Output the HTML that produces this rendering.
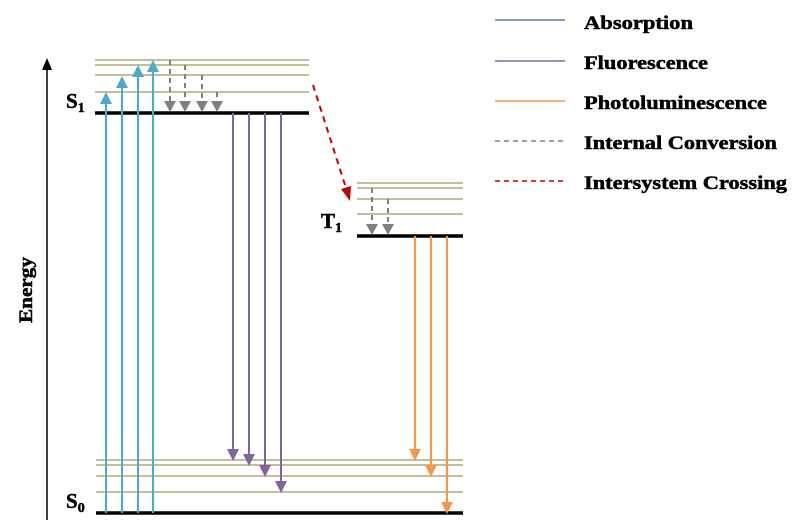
<!DOCTYPE html>
<html><head><style>
html,body{margin:0;padding:0;background:#fff;width:800px;height:526px;overflow:hidden}
text{font-family:"Liberation Serif",serif;font-weight:bold;fill:#000;stroke:#000;stroke-width:0.5}
</style></head><body>
<svg width="800" height="526" viewBox="0 0 800 526" xmlns="http://www.w3.org/2000/svg">
<!-- axis -->
<line x1="47" y1="520" x2="47" y2="68" stroke="#000" stroke-width="1.5"/>
<path d="M42,70 L47,58 L52,70 Z" fill="#000"/>
<text transform="translate(32,290) rotate(-90)" text-anchor="middle" font-size="19" textLength="66" lengthAdjust="spacingAndGlyphs">Energy</text>
<g stroke="#c4bd97" stroke-width="2">
<line x1="95" y1="60" x2="309" y2="60"/><line x1="95" y1="65" x2="309" y2="65"/>
<line x1="95" y1="75" x2="309" y2="75"/><line x1="95" y1="92" x2="309" y2="92"/>
<line x1="357" y1="183" x2="463" y2="183"/><line x1="357" y1="188" x2="463" y2="188"/>
<line x1="357" y1="199" x2="463" y2="199"/><line x1="357" y1="214" x2="463" y2="214"/>
<line x1="96" y1="460" x2="463" y2="460"/><line x1="96" y1="465" x2="463" y2="465"/>
<line x1="96" y1="476" x2="463" y2="476"/><line x1="96" y1="492" x2="463" y2="492"/>
</g>
<g stroke="#000" stroke-width="3.5">
<line x1="95" y1="113" x2="309" y2="113"/>
<line x1="357" y1="236" x2="463" y2="236"/>
<line x1="96" y1="513" x2="463" y2="513"/>
</g>
<text x="66" y="108" font-size="21">S<tspan font-size="14" dy="4">1</tspan></text>
<text x="321" y="228" font-size="21">T<tspan font-size="14" dy="4">1</tspan></text>
<text x="66" y="508" font-size="21">S<tspan font-size="14" dy="4">0</tspan></text>
<g stroke="#4bacc6" stroke-width="2">
<line x1="106" y1="513" x2="106" y2="100"/><line x1="122" y1="513" x2="122" y2="84"/>
<line x1="138" y1="513" x2="138" y2="73"/><line x1="153" y1="513" x2="153" y2="68"/>
</g>
<g fill="#4bacc6">
<path d="M100,104 L106,92 L112,104Z"/><path d="M116,88 L122,76 L128,88Z"/>
<path d="M132,77 L138,65 L144,77Z"/><path d="M147,72 L153,60 L159,72Z"/>
</g>
<g stroke="#808080" stroke-width="2" stroke-dasharray="5,4">
<line x1="170" y1="60" x2="170" y2="103"/><line x1="185" y1="65" x2="185" y2="103"/>
<line x1="202" y1="75" x2="202" y2="103"/><line x1="217" y1="92" x2="217" y2="103"/>
<line x1="372" y1="188" x2="372" y2="226"/><line x1="388" y1="199" x2="388" y2="226"/>
</g>
<g fill="#808080">
<path d="M164,101 L170,112 L176,101Z"/><path d="M179,101 L185,112 L191,101Z"/>
<path d="M196,101 L202,112 L208,101Z"/><path d="M211,101 L217,112 L223,101Z"/>
<path d="M366,224 L372,235 L378,224Z"/><path d="M382,224 L388,235 L394,224Z"/>
</g>
<g stroke="#8064a2" stroke-width="2">
<line x1="233" y1="113" x2="233" y2="450"/><line x1="249" y1="113" x2="249" y2="455"/>
<line x1="265" y1="113" x2="265" y2="466"/><line x1="281" y1="113" x2="281" y2="482"/>
</g>
<g fill="#8064a2">
<path d="M227,449 L233,461 L239,449Z"/><path d="M243,454 L249,466 L255,454Z"/>
<path d="M259,465 L265,477 L271,465Z"/><path d="M275,481 L281,493 L287,481Z"/>
</g>
<g stroke="#f79646" stroke-width="2">
<line x1="415" y1="236" x2="415" y2="450"/><line x1="431" y1="236" x2="431" y2="466"/>
<line x1="447" y1="236" x2="447" y2="503"/>
</g>
<g fill="#f79646">
<path d="M409,449 L415,461 L421,449Z"/><path d="M425,465 L431,477 L437,465Z"/>
<path d="M441,502 L447,514 L453,502Z"/>
</g>
<line x1="313" y1="85" x2="346" y2="188" stroke="#c00000" stroke-width="2" stroke-dasharray="6,5"/>
<path d="M341,189 L350,201 L351,186Z" fill="#c00000"/>
<line x1="495" y1="20" x2="565" y2="20" stroke="#4a7ebb" stroke-width="1.5"/>
<line x1="495" y1="61" x2="565" y2="61" stroke="#8064a2" stroke-width="1.5"/>
<line x1="495" y1="101" x2="565" y2="101" stroke="#f79646" stroke-width="1.5"/>
<line x1="495" y1="141" x2="565" y2="141" stroke="#808080" stroke-width="1.5" stroke-dasharray="5,4"/>
<line x1="495" y1="181" x2="565" y2="181" stroke="#c00000" stroke-width="1.5" stroke-dasharray="5,4"/>
<g font-size="19">
<text x="584" y="29" textLength="109" lengthAdjust="spacingAndGlyphs">Absorption</text>
<text x="584" y="69" textLength="124" lengthAdjust="spacingAndGlyphs">Fluorescence</text>
<text x="584" y="109" textLength="183" lengthAdjust="spacingAndGlyphs">Photoluminescence</text>
<text x="584" y="149" textLength="193" lengthAdjust="spacingAndGlyphs">Internal Conversion</text>
<text x="584" y="189" textLength="203" lengthAdjust="spacingAndGlyphs">Intersystem Crossing</text>
</g>
</svg>
</body></html>
